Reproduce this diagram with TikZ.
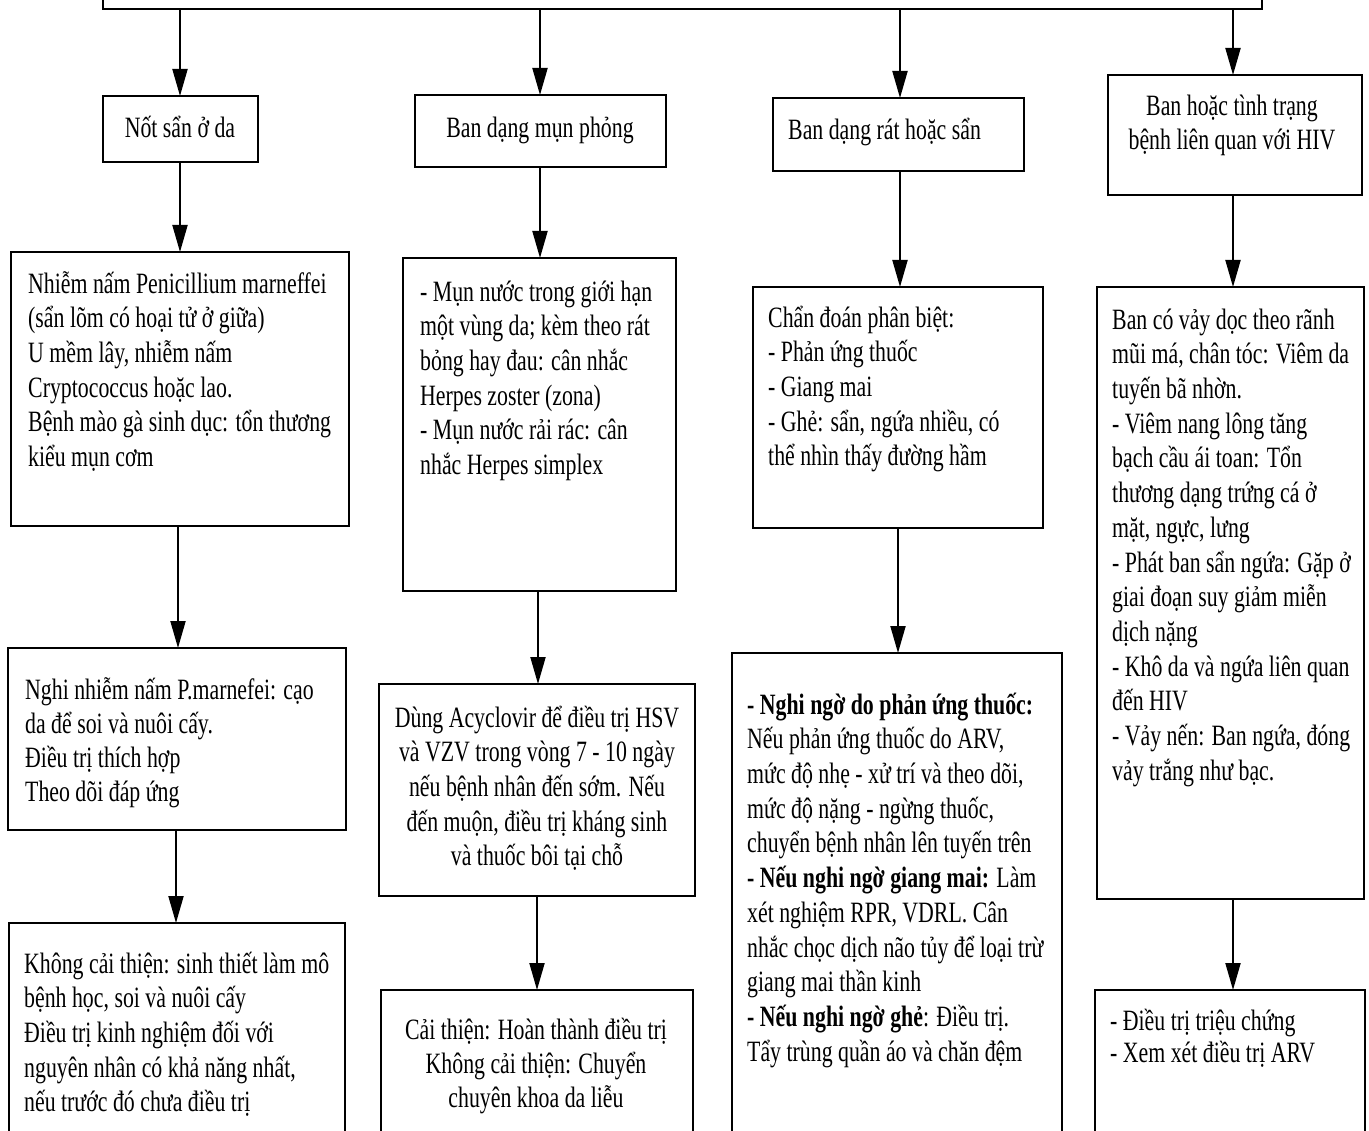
\documentclass[tikz,border=0pt]{standalone}
\usepackage{fontspec}
\setmainfont{Liberation Serif}[FakeStretch=0.74]
\usetikzlibrary{arrows.meta}

\newcommand\bodyfont[1]{\fontsize{29.5}{#1}\selectfont\lineskiplimit=-20pt\relax}
\tikzset{
  panel/.style={draw, line width=2.6pt, rectangle, inner sep=0pt, outer sep=0pt, anchor=north west},
  body/.style={inner sep=0pt, font=\bodyfont{34.7}, align=left, anchor=north west},
  bodyc/.style={body, align=center, anchor=north},
  arr/.style={line width=2pt, -{Triangle[length=27pt,width=15pt]}},
}

% panel: name, x1, y1, x2, y2 (pixel units, y pointing down)
\newcommand\panelbox[5]{%
  \pgfmathsetmacro\pw{#4-#2}\pgfmathsetmacro\ph{#5-#3}%
  \node[panel, minimum width=\pw pt, minimum height=\ph pt] (#1) at (#2,#3) {};}

\begin{document}
\begin{tikzpicture}[x=1pt, y=-1pt]
\useasboundingbox[fill=white] (0,0) rectangle (1369,1131);
\clip (0,0) rectangle (1369,1131);

% ---- boxes ----
\panelbox{top}{103}{-60}{1262}{9}
\panelbox{b1}{103}{96}{258}{162}
\panelbox{b2}{415}{95}{666}{167}
\panelbox{b3}{773}{98}{1024}{171}
\panelbox{b4}{1108}{75}{1362}{195}
\panelbox{c1}{11}{252}{349}{526}
\panelbox{c2}{403}{258}{676}{591}
\panelbox{c3}{753}{287}{1043}{528}
\panelbox{c4}{1097}{287}{1364}{899}
\panelbox{d1}{8}{648}{346}{830}
\panelbox{d2}{379}{684}{695}{896}
\panelbox{d3}{732}{653}{1062}{1160}
\panelbox{d4}{1095}{990}{1365}{1160}
\panelbox{e1}{9}{923}{345}{1160}
\panelbox{e2}{381}{990}{693}{1160}

% ---- texts (first baseline minus 24.3) ----
\node[bodyc] (b1t) at (180,112.7) {\strut Nốt sẩn ở da};
\node[bodyc] (b2t) at (540,112.7) {\strut Ban dạng mụn phỏng};
\node[body]  (b3t) at (788,114.7) {\strut Ban dạng rát hoặc sẩn};
\node[bodyc, font=\bodyfont{34}] (b4t) at (1232,91.9)
  {\strut Ban hoặc tình trạng\\bệnh liên quan với HIV};

\node[body] (c1t) at (28,268.7) {\strut Nhiễm nấm Penicillium marneffei\\
(sẩn lõm có hoại tử ở giữa)\\
U mềm lây, nhiễm nấm\\
Cryptococcus hoặc lao.\\
Bệnh mào gà sinh dục: tổn thương\\
kiểu mụn cơm};

\node[body] (c2t) at (420,276.7) {\strut - Mụn nước trong giới hạn\\
một vùng da; kèm theo rát\\
bỏng hay đau: cân nhắc\\
Herpes zoster (zona)\\
- Mụn nước rải rác: cân\\
nhắc Herpes simplex};

\node[body] (c3t) at (768,302.7) {\strut Chẩn đoán phân biệt:\\
- Phản ứng thuốc\\
- Giang mai\\
- Ghẻ: sẩn, ngứa nhiều, có\\
thể nhìn thấy đường hầm};

\node[body] (c4t) at (1112,304.7) {\strut Ban có vảy dọc theo rãnh\\
mũi má, chân tóc: Viêm da\\
tuyến bã nhờn.\\
- Viêm nang lông tăng\\
bạch cầu ái toan: Tổn\\
thương dạng trứng cá ở\\
mặt, ngực, lưng\\
- Phát ban sẩn ngứa: Gặp ở\\
giai đoạn suy giảm miễn\\
dịch nặng\\
- Khô da và ngứa liên quan\\
đến HIV\\
- Vảy nến: Ban ngứa, đóng\\
vảy trắng như bạc.};

\node[body, font=\bodyfont{34}] (d1t) at (25,675.7) {\strut Nghi nhiễm nấm P.marnefei: cạo\\
da để soi và nuôi cấy.\\
Điều trị thích hợp\\
Theo dõi đáp ứng};

\node[bodyc] (d2t) at (537,702.7) {\strut Dùng Acyclovir để điều trị HSV\\
và VZV trong vòng 7 - 10 ngày\\
nếu bệnh nhân đến sớm. Nếu\\
đến muộn, điều trị kháng sinh\\
và thuốc bôi tại chỗ};

\node[body] (d3t) at (747,689.7) {\strut \textbf{- Nghi ngờ do phản ứng thuốc:}\\
Nếu phản ứng thuốc do ARV,\\
mức độ nhẹ - xử trí và theo dõi,\\
mức độ nặng - ngừng thuốc,\\
chuyển bệnh nhân lên tuyến trên\\
\textbf{- Nếu nghi ngờ giang mai:} Làm\\
xét nghiệm RPR, VDRL. Cân\\
nhắc chọc dịch não tủy để loại trừ\\
giang mai thần kinh\\
\textbf{- Nếu nghi ngờ ghẻ}: Điều trị.\\
Tẩy trùng quần áo và chăn đệm};

\node[body, font=\bodyfont{32}] (d4t) at (1110,1007.7) {\strut - Điều trị triệu chứng\\
- Xem xét điều trị ARV};

\node[body] (e1t) at (24,948.7) {\strut Không cải thiện: sinh thiết làm mô\\
bệnh học, soi và nuôi cấy\\
Điều trị kinh nghiệm đối với\\
nguyên nhân có khả năng nhất,\\
nếu trước đó chưa điều trị};

\node[bodyc, font=\bodyfont{34}] (e2t) at (536,1015.7) {\strut Cải thiện: Hoàn thành điều trị\\
Không cải thiện: Chuyển\\
chuyên khoa da liễu};

% ---- connector columns ----
\coordinate (k1) at (180,0);
\coordinate (k2) at (540,0);
\coordinate (k3) at (900,0);
\coordinate (k4) at (1233,0);
\coordinate (m1) at (178,0);
\coordinate (m2) at (538,0);
\coordinate (m3) at (898,0);
\coordinate (n1) at (176,0);
\coordinate (n2) at (537,0);

\draw[arr] (top.south -| k1) -- (b1.north -| k1);
\draw[arr] (top.south -| k2) -- (b2.north -| k2);
\draw[arr] (top.south -| k3) -- (b3.north -| k3);
\draw[arr] (top.south -| k4) -- (b4.north -| k4);

\draw[arr] (b1.south -| k1) -- (c1.north -| k1);
\draw[arr] (b2.south -| k2) -- (c2.north -| k2);
\draw[arr] (b3.south -| k3) -- (c3.north -| k3);
\draw[arr] (b4.south -| k4) -- (c4.north -| k4);

\draw[arr] (c1.south -| m1) -- (d1.north -| m1);
\draw[arr] (c2.south -| m2) -- (d2.north -| m2);
\draw[arr] (c3.south -| m3) -- (d3.north -| m3);
\draw[arr] (c4.south -| k4) -- (d4.north -| k4);

\draw[arr] (d1.south -| n1) -- (e1.north -| n1);
\draw[arr] (d2.south -| n2) -- (e2.north -| n2);
\end{tikzpicture}
\end{document}
